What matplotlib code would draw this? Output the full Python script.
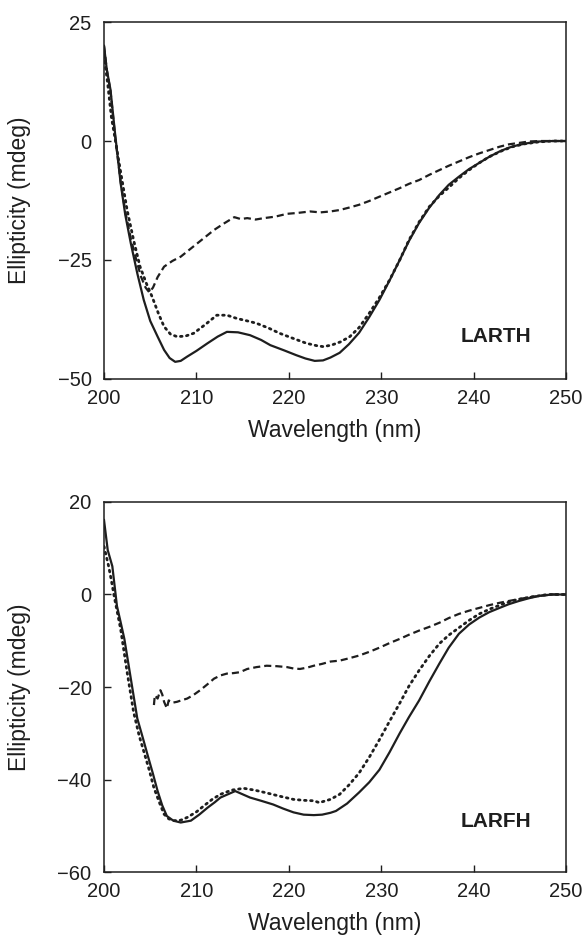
import matplotlib
matplotlib.use("Agg")
import matplotlib.pyplot as plt

plt.rcParams['font.family'] = ['Liberation Sans', 'DejaVu Sans']

INK = '#1e1e1e'

# LARTH (top panel) - wavelength (nm), ellipticity (mdeg)
larth_solid_x = [200.0, 200.3, 200.7, 201.2, 201.8, 202.3, 202.9, 203.6, 204.3, 205.0, 205.8, 206.5,
                 207.1, 207.7, 208.3, 209.0, 210.0, 211.2, 212.3, 213.3, 214.5, 215.8, 217.0,
                 218.0, 219.5, 220.8, 221.8, 222.8, 223.7, 224.5, 225.5, 226.5, 227.6, 228.7,
                 229.8, 230.9, 232.0, 233.0, 234.1, 235.2, 236.3, 237.3, 238.4, 239.5, 240.6,
                 241.7, 242.8, 243.8, 244.9, 246.0, 247.1, 248.5, 250.0]
larth_solid_y = [20.0, 15.0, 10.8, 1.5, -8.9, -15.5, -21.5, -27.8, -33.4, -37.8, -41.1, -43.9,
                 -45.6, -46.4, -46.2, -45.3, -44.1, -42.5, -41.1, -40.1, -40.2, -40.8, -41.8,
                 -42.9, -44.0, -45.0, -45.7, -46.2, -46.1, -45.5, -44.5, -42.7, -40.3, -37.0,
                 -33.4, -29.3, -25.0, -21.0, -17.2, -14.0, -11.3, -9.2, -7.5, -5.9, -4.6,
                 -3.3, -2.2, -1.4, -0.8, -0.4, -0.1, 0.0, 0.0]

larth_dot_x = [200.0, 200.4, 200.8, 201.1, 201.8, 202.5, 203.2, 203.9, 204.6, 205.2, 205.9, 206.5,
               207.2, 207.9, 208.8, 209.7, 211.0, 212.2, 213.3, 214.4, 215.5, 216.5, 217.8,
               219.0, 220.5, 221.9, 223.0, 223.7, 224.6, 225.6, 226.6, 227.6, 228.7, 229.8,
               230.9, 232.0, 233.0, 234.1, 235.2, 236.3, 237.4, 238.4, 239.5, 240.6, 241.7,
               243.0, 244.2, 245.5, 247.0, 248.5, 250.0]
larth_dot_y = [18.0, 12.0, 5.0, 1.6, -6.5, -14.5, -20.8, -26.4, -30.0, -32.7, -36.3, -39.0,
               -40.6, -41.1, -41.0, -40.4, -38.5, -36.6, -36.6, -37.3, -37.8, -38.3, -39.3,
               -40.4, -41.5, -42.5, -43.0, -43.2, -42.9, -42.2, -41.1, -39.2, -36.2, -32.9,
               -29.2, -25.0, -20.8, -17.0, -13.8, -11.5, -9.6, -7.8, -6.1, -4.6, -3.3,
               -2.1, -1.2, -0.6, -0.2, 0.0, 0.0]

larth_dash_x = [200.0, 200.3, 200.7, 201.2, 201.8, 202.3, 202.9, 203.5, 204.0, 204.5, 204.9, 205.3,
                205.8, 206.5, 207.4, 208.3, 209.2, 210.1, 211.0, 211.9, 213.0, 214.1, 214.8,
                215.5, 216.4, 217.3, 218.5, 219.8, 221.0, 222.3, 223.4, 224.5, 225.5, 226.5,
                227.6, 228.7, 229.8, 230.9, 232.0, 233.0, 234.1, 235.2, 236.3, 237.3, 238.4,
                239.5, 240.6, 241.7, 242.8, 243.8, 244.9, 246.0, 247.1, 248.5, 250.0]
larth_dash_y = [20.0, 15.0, 10.5, 1.0, -8.5, -14.8, -20.5, -25.0, -28.5, -30.8, -31.8, -30.8,
                -28.6, -26.4, -25.2, -24.3, -22.9, -21.5, -20.1, -18.7, -17.3, -16.0, -16.4,
                -16.2, -16.5, -16.2, -15.9, -15.3, -15.1, -14.8, -15.0, -14.8, -14.5, -14.0,
                -13.4, -12.6, -11.7, -10.8, -9.9, -9.0, -8.2, -7.1, -6.1, -5.2, -4.3,
                -3.4, -2.6, -1.9, -1.2, -0.7, -0.4, -0.1, 0.0, 0.0, 0.0]

# LARFH (bottom panel)
larfh_solid_x = [200.0, 200.4, 200.9, 201.4, 201.8, 202.2, 202.9, 203.6, 204.2, 204.7, 205.3, 205.8,
                 206.3, 206.8, 207.5, 208.3, 209.4, 210.3, 211.2, 212.0, 212.6, 213.4, 214.2,
                 215.0, 215.8, 217.0, 218.3, 219.4, 220.5, 221.6, 222.7, 223.6, 224.5, 225.1,
                 226.3, 227.6, 228.7, 229.8, 230.9, 232.0, 233.0, 234.1, 235.2, 236.3, 237.3,
                 238.4, 239.5, 240.6, 241.7, 242.8, 243.8, 244.9, 246.0, 247.1, 248.5, 250.0]
larfh_solid_y = [16.1, 9.6, 6.1, -2.5, -6.0, -9.6, -18.2, -26.8, -31.0, -34.6, -38.8, -42.5,
                 -45.6, -47.9, -48.9, -49.3, -48.9, -47.6, -46.1, -44.9, -43.9, -43.2, -42.5,
                 -43.2, -43.9, -44.6, -45.4, -46.3, -47.1, -47.6, -47.7, -47.6, -47.2, -46.8,
                 -45.2, -42.8, -40.6, -37.9, -34.1, -30.0, -26.5, -22.9, -18.8, -14.9, -11.5,
                 -8.5, -6.5, -5.0, -3.8, -2.9, -2.1, -1.4, -0.8, -0.3, 0.0, 0.0]

larfh_dot_x = [200.0, 200.5, 200.8, 201.1, 201.8, 202.5, 203.2, 203.8, 204.3, 204.9, 205.4, 206.0,
               206.5, 207.0, 207.6, 208.3, 209.0, 210.0, 210.8, 211.7, 212.6, 213.8, 215.1,
               216.3, 217.6, 219.0, 220.5, 221.6, 222.7, 223.3, 224.5, 225.5, 226.5, 227.6,
               228.7, 229.8, 230.9, 232.0, 233.0, 234.1, 235.2, 236.3, 237.3, 238.4, 239.5,
               240.6, 241.8, 243.1, 244.5, 246.0, 248.0, 250.0]
larfh_dot_y = [10.4, 6.1, 3.0, -0.4, -7.5, -16.8, -25.4, -30.5, -33.9, -38.0, -41.8, -45.0,
               -47.5, -48.5, -48.9, -48.8, -48.2, -47.0, -45.7, -44.3, -43.2, -42.3, -41.9,
               -42.3, -42.9, -43.6, -44.3, -44.5, -44.6, -45.0, -44.3, -43.2, -41.2, -38.6,
               -35.2, -31.4, -27.4, -23.5, -19.8, -16.4, -13.3, -10.6, -8.8, -7.2, -5.6,
               -4.2, -3.1, -2.1, -1.2, -0.6, 0.0, 0.0]

larfh_dash_x = [205.4, 205.5, 205.8, 206.1, 206.3, 206.5, 206.8, 207.0, 207.4, 207.9, 208.5, 209.0,
                209.7, 210.4, 211.2, 211.9, 212.6, 213.3, 214.0, 214.7, 215.5, 216.5, 217.6,
                218.7, 219.8, 220.5, 221.2, 222.0, 222.7, 223.6, 224.5, 225.5, 226.5, 227.6,
                228.7, 229.8, 230.9, 232.0, 233.0, 234.1, 235.2, 236.3, 237.3, 238.4, 239.5,
                240.6, 241.7, 242.8, 243.8, 244.9, 246.0, 247.1, 248.5, 250.0]
larfh_dash_y = [-23.9, -21.8, -22.5, -20.7, -21.6, -23.2, -24.6, -22.9, -23.4, -23.2, -22.8, -22.5,
                -21.7, -20.7, -19.4, -18.2, -17.5, -17.1, -17.0, -16.8, -16.1, -15.7, -15.4,
                -15.5, -15.7, -16.0, -16.1, -15.8, -15.4, -15.0, -14.5, -14.3, -13.8, -13.2,
                -12.4, -11.5, -10.5, -9.6, -8.7, -7.8, -7.0, -6.1, -5.1, -4.2, -3.5,
                -2.9, -2.3, -1.8, -1.4, -1.0, -0.6, -0.3, 0.0, 0.0]

panels = [
    dict(name='LARTH', solid=(larth_solid_x, larth_solid_y), dot=(larth_dot_x, larth_dot_y),
         dash=(larth_dash_x, larth_dash_y), ylim=(-50, 25), yticks=[25, 0, -25, -50],
         rect=[0.1775, 0.5977, 0.7885, 0.3789], label_y=-41),
    dict(name='LARFH', solid=(larfh_solid_x, larfh_solid_y), dot=(larfh_dot_x, larfh_dot_y),
         dash=(larfh_dash_x, larfh_dash_y), ylim=(-60, 20), yticks=[20, 0, -20, -40, -60],
         rect=[0.1775, 0.0743, 0.7885, 0.3928], label_y=-49),
]

fig = plt.figure(figsize=(5.86, 9.42), dpi=100)

for p in panels:
    ax = fig.add_axes(p['rect'])
    ax.plot(*p['solid'], color=INK, lw=1.6, ls='-')
    ax.plot(*p['dot'], color=INK, lw=2.0, ls=(0, (0.6, 1.6)), dash_capstyle='round')
    ax.plot(*p['dash'], color=INK, lw=1.6, ls=(0, (3.2, 1.8)))

    ax.set_xlim(200, 250)
    ax.set_ylim(*p['ylim'])
    ax.set_xticks([200, 210, 220, 230, 240, 250])
    ax.set_yticks(p['yticks'])
    ax.set_yticklabels([str(v).replace('-', '\u2212') for v in p['yticks']])
    ax.tick_params(direction='in', length=5, width=1, labelsize=14.5, colors=INK)
    ax.tick_params(axis='y', pad=9)
    ax.tick_params(axis='x', pad=7)
    for s in ax.spines.values():
        s.set_linewidth(1.1)
        s.set_color(INK)

    ax.set_xlabel('Wavelength (nm)', fontsize=16.5, color=INK, labelpad=8)
    ax.set_ylabel('Ellipticity (mdeg)', fontsize=16.5, color=INK)
    ax.yaxis.set_label_coords(-0.158, 0.5)
    ax.text(242.4, p['label_y'], p['name'], fontsize=15, fontweight='bold', color=INK,
            ha='center', va='center')

fig.savefig('out.png', dpi=100)
